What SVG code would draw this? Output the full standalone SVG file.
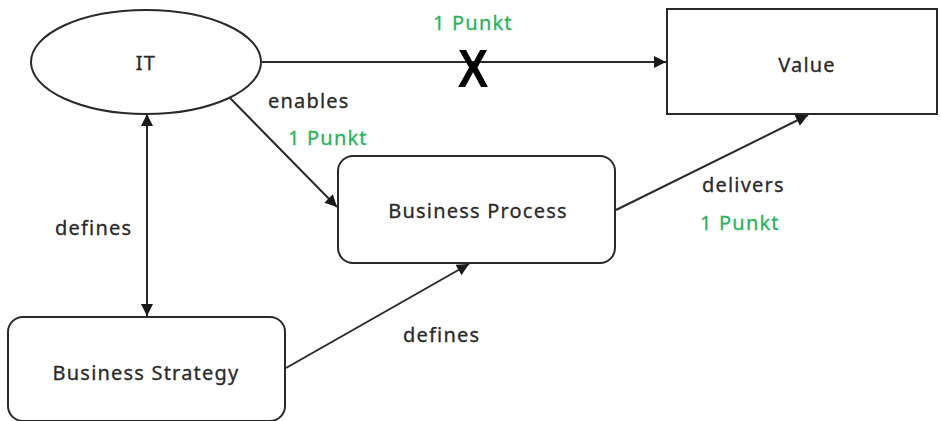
<svg xmlns="http://www.w3.org/2000/svg" width="941" height="421" viewBox="0 0 941 421">
<style>
.shape{fill:#fff;stroke:#2a2a2a;stroke-width:2}
.edge{fill:none;stroke:#2a2a2a;stroke-width:2}
.t{font-family:"Noto Sans","Open Sans",sans-serif;font-size:20px;letter-spacing:1.2px;fill:#2a2a2a;stroke:#2a2a2a;stroke-width:0.3}
.g{font-family:"Noto Sans","Open Sans",sans-serif;font-size:20px;letter-spacing:1.2px;fill:#2bb35c;stroke:#2bb35c;stroke-width:0.3}
.c{text-anchor:middle}
</style>
<defs>
<marker id="ahl" viewBox="0 0 10 10" refX="10" refY="5" markerWidth="14" markerHeight="12" markerUnits="userSpaceOnUse" orient="auto-start-reverse">
<path d="M0,0 L10,5 L0,10 z" fill="#1a1a1a"/>
</marker>
</defs>
<g id="connectors">
<line class="edge" x1="262" y1="62" x2="666" y2="62" marker-end="url(#ahl)"/>
<line class="edge" x1="230" y1="98" x2="337" y2="207" marker-end="url(#ahl)"/>
<line class="edge" x1="616" y1="210" x2="808" y2="115" marker-end="url(#ahl)"/>
<line class="edge" x1="147" y1="114" x2="147" y2="316" marker-start="url(#ahl)" marker-end="url(#ahl)"/>
<line class="edge" x1="286" y1="368" x2="469" y2="264" marker-end="url(#ahl)"/>
<text transform="translate(473,87) scale(0.85,1)" font-family="Liberation Sans,Arial,sans-serif" font-weight="bold" font-size="54" fill="#000" text-anchor="middle">X</text>
<text class="g" x="433" y="30">1 Punkt</text>
<text class="t" x="268" y="108">enables</text>
<text class="g" x="288" y="145">1 Punkt</text>
<text class="t" x="702" y="192">delivers</text>
<text class="g" x="700" y="230">1 Punkt</text>
<text class="t" x="55" y="235">defines</text>
<text class="t" x="403" y="342">defines</text>
</g>
<g id="it">
<ellipse class="shape" cx="146" cy="62" rx="115" ry="52"/>
<text class="t c" x="146" y="70">IT</text>
</g>
<g id="value">
<rect class="shape" x="667" y="9" width="270" height="105"/>
<text class="t c" x="807" y="72">Value</text>
</g>
<g id="business-process">
<rect class="shape" x="338" y="156" width="277" height="107" rx="15"/>
<text class="t c" x="478" y="218">Business Process</text>
</g>
<g id="business-strategy">
<rect class="shape" x="8" y="317" width="277" height="104" rx="15"/>
<text class="t c" x="146" y="380">Business Strategy</text>
</g>
</svg>
